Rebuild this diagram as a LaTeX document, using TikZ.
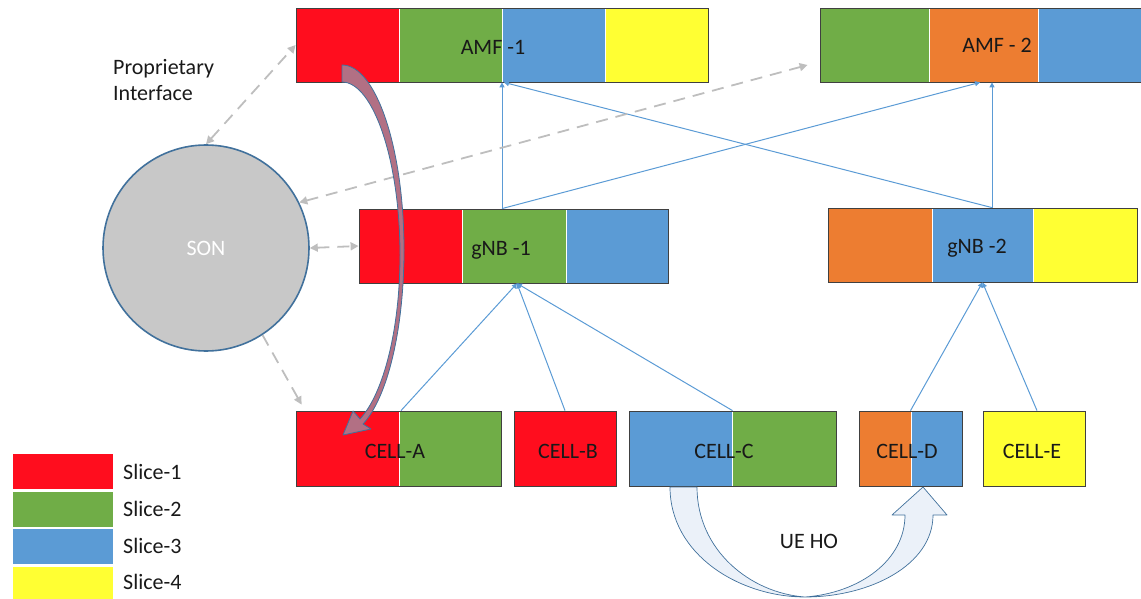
\documentclass[tikz,border=0pt]{standalone}
\usepackage{fontspec}
\setmainfont{Carlito}
\usetikzlibrary{arrows.meta}

\definecolor{slred}{RGB}{255,13,30}
\definecolor{slgreen}{RGB}{112,173,71}
\definecolor{slblue}{RGB}{91,155,213}
\definecolor{slyellow}{RGB}{255,255,51}
\definecolor{slorange}{RGB}{237,125,49}
\definecolor{songray}{RGB}{200,200,200}
\definecolor{edgeblue}{RGB}{65,113,156}
\definecolor{dashgray}{RGB}{190,190,190}
\definecolor{mauve}{RGB}{178,112,132}
\definecolor{hofill}{RGB}{235,241,249}

\begin{document}
\begin{tikzpicture}[x=1pt, y=-1pt,
  frame/.style={draw=black!75, line width=0.8pt, inner sep=0pt},
  seg/.style={draw=white, line width=0.6pt},
  lbl/.style={font=\fontsize{22}{26}\selectfont, text=black!90, anchor=base, inner sep=0pt},
  link/.style={draw=slblue, line width=1pt, -{Triangle[length=5pt, width=5pt]}},
  sonlink/.style={draw=dashgray, line width=1.8pt, dash pattern=on 12pt off 8pt, >={Triangle[length=8pt, width=8pt]}}]

\useasboundingbox (0,0) rectangle (1141,599);

% slices of each box
\filldraw[seg, fill=slred] (296,8) rectangle (399,82);
\filldraw[seg, fill=slgreen] (399,8) rectangle (502,82);
\filldraw[seg, fill=slblue] (502,8) rectangle (605,82);
\filldraw[seg, fill=slyellow] (605,8) rectangle (708,82);

\filldraw[seg, fill=slgreen] (820,8) rectangle (929,82);
\filldraw[seg, fill=slorange] (929,8) rectangle (1038,82);
\filldraw[seg, fill=slblue] (1038,8) rectangle (1147,82);

\filldraw[seg, fill=slred] (359,209) rectangle (462.5,283);
\filldraw[seg, fill=slgreen] (462.5,209) rectangle (566,283);
\filldraw[seg, fill=slblue] (566,209) rectangle (668,283);

\filldraw[seg, fill=slorange] (828,208) rectangle (932,282);
\filldraw[seg, fill=slblue] (932,208) rectangle (1033,282);
\filldraw[seg, fill=slyellow] (1033,208) rectangle (1137,282);

\filldraw[seg, fill=slred] (296,411) rectangle (399,486);
\filldraw[seg, fill=slgreen] (399,411) rectangle (501,486);
\filldraw[seg, fill=slred] (514,411) rectangle (616,486);
\filldraw[seg, fill=slblue] (629,411) rectangle (732,486);
\filldraw[seg, fill=slgreen] (732,411) rectangle (836,486);
\filldraw[seg, fill=slorange] (859,411) rectangle (911,486);
\filldraw[seg, fill=slblue] (911,411) rectangle (962,486);
\filldraw[seg, fill=slyellow] (983,411) rectangle (1085,486);

% outlines
\node[frame, minimum width=412pt, minimum height=74pt] (amf1) at (502,45) {};
\node[frame, minimum width=327pt, minimum height=74pt] (amf2) at (983.5,45) {};
\node[frame, minimum width=309pt, minimum height=74pt] (gnb1) at (513.5,246) {};
\node[frame, minimum width=309pt, minimum height=74pt] (gnb2) at (982.5,245) {};
\node[frame, minimum width=205pt, minimum height=75pt] (cella) at (398.5,448.5) {};
\node[frame, minimum width=102pt, minimum height=75pt] (cellb) at (565,448.5) {};
\node[frame, minimum width=207pt, minimum height=75pt] (cellc) at (732.5,448.5) {};
\node[frame, minimum width=103pt, minimum height=75pt] (celld) at (910.5,448.5) {};
\node[frame, minimum width=102pt, minimum height=75pt] (celle) at (1034,448.5) {};

\node[circle, draw=edgeblue, line width=1.6pt, fill=songray, minimum size=206pt, inner sep=0pt,
  text=white, font=\fontsize{22}{26}\selectfont] (son) at (206,248) {SON};

% links
\draw[link] ([xshift=-11.5pt]gnb1.north) -- (amf1.south);
\draw[link] ([xshift=-11.5pt]gnb1.north) -- ([xshift=-3.5pt]amf2.south);
\draw[link] ([xshift=9.5pt]gnb2.north) -- ([xshift=2pt]amf1.south);
\draw[link] ([xshift=9.5pt]gnb2.north) -- ([xshift=8.5pt]amf2.south);
\draw[link] ([xshift=2.5pt]cella.north) -- ([xshift=3.5pt]gnb1.south);
\draw[link] (cellb.north) -- ([xshift=3.5pt]gnb1.south);
\draw[link] (cellc.north) -- ([xshift=3.5pt]gnb1.south);
\draw[link] (celld.north) -- (gnb2.south);
\draw[link] ([xshift=3pt]celle.north) -- (gnb2.south);

\draw[sonlink, <->] (son.north) -- (amf1.west);
\draw[sonlink, <->] (son.26) -- ([xshift=-12pt, yshift=-20pt]amf2.west);
\draw[sonlink, <->] (son.east) -- (gnb1.west);
\draw[sonlink, ->] (son.-57) -- ([xshift=6pt, yshift=6pt]cella.north west);

% slice move arrow
\filldraw[fill=mauve, draw=edgeblue, line width=0.8pt, line join=round]
  (342,65) .. controls (376,65) and (404,148) .. (404,250)
  .. controls (404,328) and (388,397) .. (363,424) -- (371,429) -- (343,435) -- (353,411) -- (360,419)
  .. controls (384,393) and (400,328) .. (400,255)
  .. controls (400,160) and (373,82) .. (342,82) -- cycle;

% handover arrow
\filldraw[fill=hofill, draw=edgeblue, line width=0.7pt, line join=round]
  (670,487) .. controls (670,555) and (740,597) .. (805,597)
  .. controls (870,597) and (933,565) .. (933,515) -- (947,515) -- (923,487) -- (892,515) -- (905,515)
  .. controls (905,560) and (860,593) .. (805,597)
  .. controls (750,593) and (697,550) .. (697,487) -- cycle;

% labels
\node[lbl] (amf1lbl) at (493,55) {AMF -1};
\node[lbl] (amf2lbl) at (997,53) {AMF - 2};
\node[lbl] (gnb1lbl) at (501,255) {gNB -1};
\node[lbl] (gnb2lbl) at (977,253) {gNB -2};
\node[lbl] (cellalbl) at (395,458) {CELL-A};
\node[lbl] (cellblbl) at (568,458) {CELL-B};
\node[lbl] (cellclbl) at (724,458) {CELL-C};
\node[lbl] (celldlbl) at (907,458) {CELL-D};
\node[lbl] (cellelbl) at (1032,458) {CELL-E};
\node[lbl] (holbl) at (809,548) {UE HO};
\node[lbl, anchor=west, align=left] (iflbl) at (113,80) {Proprietary\\Interface};

% legend
\filldraw[seg, fill=slred] (12,453) rectangle (113,489);
\filldraw[seg, fill=slgreen] (12,491) rectangle (113,527);
\filldraw[seg, fill=slblue] (12,528) rectangle (113,564);
\filldraw[seg, fill=slyellow] (12,566) rectangle (113,600);
\node[lbl, anchor=base west] (leg1) at (123,479) {Slice-1};
\node[lbl, anchor=base west] (leg2) at (123,516) {Slice-2};
\node[lbl, anchor=base west] (leg3) at (123,553) {Slice-3};
\node[lbl, anchor=base west] (leg4) at (123,589) {Slice-4};

\end{tikzpicture}
\end{document}
